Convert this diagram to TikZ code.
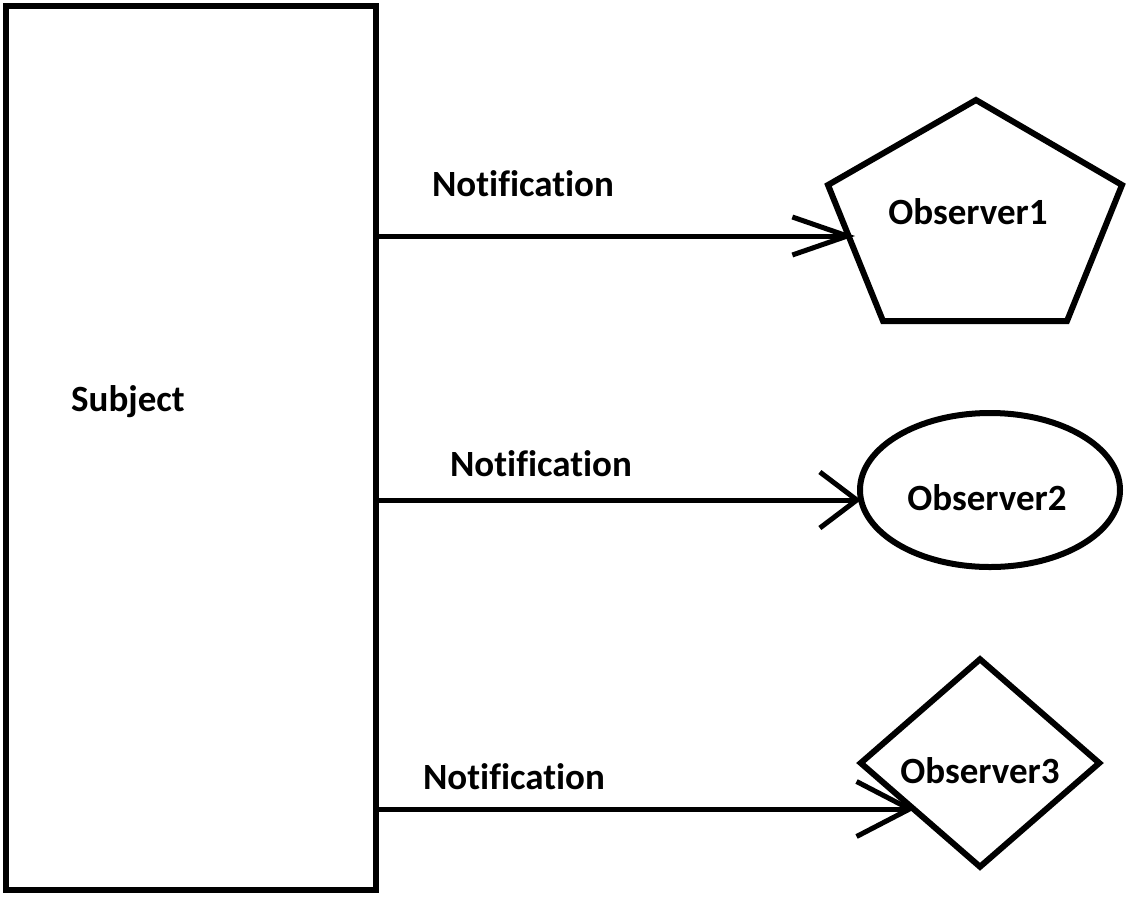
\documentclass[tikz,border=0pt]{standalone}
\usepackage{fontspec}
\setmainfont{Carlito}[Ligatures=CommonOff]
\usetikzlibrary{shapes.geometric,arrows.meta}

\begin{document}
\begin{tikzpicture}[x=1pt,y=-1pt]

      \useasboundingbox (0,0) rectangle (1133,898);

      \begin{scope}[every node/.style={draw,line width=6pt,inner sep=0pt}]
        \node[rectangle,minimum width=370pt,minimum height=884pt] (subj) at (191,448) {};
        \node[ellipse,minimum width=260pt,minimum height=154pt] (obs2) at (990,490) {};
        \node[diamond,minimum width=241pt,minimum height=210pt] (obs3) at (980,763) {};
      \end{scope}

      % pentagon, drawn by hand
      \coordinate (p1) at (976,100);
      \coordinate (p2) at (1122,185);
      \coordinate (p3) at (1067,321);
      \coordinate (p4) at (883,321);
      \coordinate (p5) at (828,185);
      \draw[line width=6pt,line join=miter] (p1) -- (p2) -- (p3) -- (p4) -- (p5) -- cycle;

      \coordinate (t1) at (855,236);
      \coordinate (t2) at (861,500);
      \coordinate (t3) at (915,809);

      \begin{scope}[every node/.style={anchor=base,font=\bfseries\fontsize{37}{42}\selectfont}]
        \node (s) at (128,411) {Subject};
        \node (o1) at (968,224) {Observer1};
        \node (o2) at (987,510) {Observer2};
        \node (o3) at (980,783) {Observer3};
        \node (n1) at (523,196) {Notification};
        \node (n2) at (541,476) {Notification};
        \node (n3) at (514,789) {Notification};
      \end{scope}

      \begin{scope}[line width=5pt]
        \draw[-{Straight Barb[length=55pt,width=38pt]}] (subj.east |- t1) -- (t1);
        \draw[-{Straight Barb[length=37pt,width=56pt]}] (subj.east |- t2) -- (t2);
        \draw[-{Straight Barb[length=53pt,width=55pt]}] (subj.east |- t3) -- (t3);
      \end{scope}

    \end{tikzpicture}
\end{document}
